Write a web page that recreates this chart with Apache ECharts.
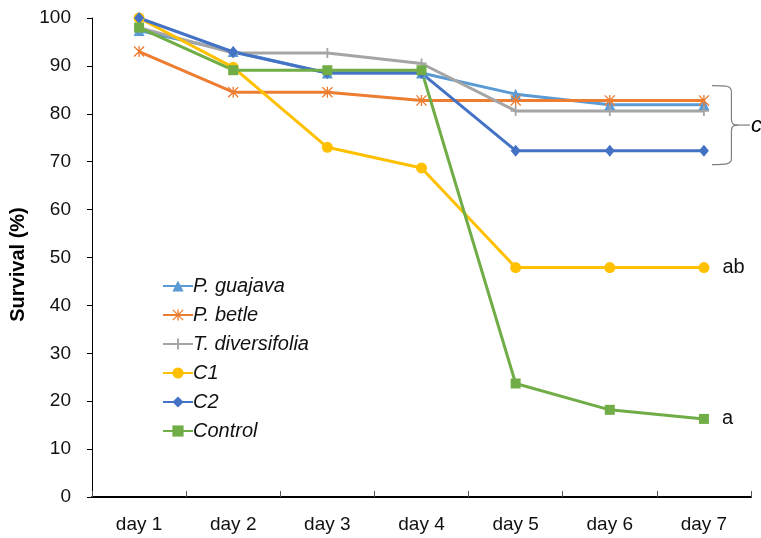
<!DOCTYPE html>
<html>
<head>
<meta charset="utf-8">
<script src="https://cdn.jsdelivr.net/npm/echarts@6/dist/echarts.min.js"></script>
<style>html,body{margin:0;padding:0;background:#fff}#c{width:761px;height:538px}</style>
</head>
<body>
<div id="c"></div>
<script>
// ---- data ----
const categories = ['day 1','day 2','day 3','day 4','day 5','day 6','day 7'];
const seriesNames = ['P. guajava','P. betle','T. diversifolia','C1','C2','Control'];
const pGuajava   = [97.4, 93.0, 88.5, 88.5, 84.1, 81.9, 81.9];
const pBetle     = [93.0, 84.5, 84.5, 82.8, 82.8, 82.8, 82.8];
const tDiversifolia = [98.0, 92.7, 92.7, 90.5, 80.6, 80.6, 80.6];
const c1         = [100, 89.7, 73.0, 68.7, 47.9, 47.9, 47.9];
const c2         = [100, 92.9, 88.5, 88.5, 72.3, 72.3, 72.3];
const control    = [98.0, 89.1, 89.1, 89.1, 23.7, 18.2, 16.3];
const yTicks = {min: 0, max: 100, interval: 10};
const groupLetters = {C1: 'ab', Control: 'a'};
const braceLetter = 'c';
const braceRange = [69.4, 85.9]; // survival range spanned by the brace

// ---- style ----
const colors = ['#5B9BD5','#ED7D31','#A5A5A5','#FFC000','#4472C4','#70AD47'];
const asterisk = 'path://M4.4,0L5.6,0L5.6,10L4.4,10Z M0,0.85L0.85,0L10,9.15L9.15,10Z M9.15,0L10,0.85L0.85,10L0,9.15Z';
const plus = 'path://M4.1,0L5.9,0L5.9,10L4.1,10Z M0,4.1L10,4.1L10,5.9L0,5.9Z';
const symbols = ['triangle', asterisk, plus, 'circle', 'diamond', 'rect'];
const symbolSizes = [11, 11, 10, 11, [10,12], 10];
const values = [pGuajava, pBetle, tDiversifolia, c1, c2, control];
const FONT = 'Liberation Sans';

const chart = echarts.init(document.getElementById('c'), null, {renderer: 'canvas'});

const series = seriesNames.map((name, i) => {
  const letter = groupLetters[name];
  const data = values[i].map((v, j) => {
    if (letter && j === values[i].length - 1) {
      return {value: v, label: {show: true, formatter: letter}};
    }
    return v;
  });
  return {
    name, type: 'line', data,
    symbol: symbols[i], symbolSize: symbolSizes[i], showAllSymbol: true,
    lineStyle: {color: colors[i], width: 3},
    itemStyle: {color: colors[i], borderWidth: 0},
    label: {show: false, position: 'right', distance: 13, color: '#111', fontFamily: FONT, fontSize: 20},
    emphasis: {disabled: true},
    animation: false
  };
});

chart.setOption({
  animation: false,
  backgroundColor: '#fff',
  color: colors,
  grid: {left: 92, right: 10, top: 18, bottom: 41, containLabel: false},
  legend: {
    orient: 'vertical', left: 157, top: 271,
    itemWidth: 30, itemHeight: 14, itemGap: 9,
    textStyle: {fontFamily: FONT, fontSize: 20, fontStyle: 'italic', color: '#111', padding: [0,0,0,-5]},
    data: seriesNames
  },
  xAxis: {
    type: 'category', data: categories, boundaryGap: true,
    axisLine: {lineStyle: {color: '#000', width: 2}},
    axisTick: {show: true, inside: true, length: 6, lineStyle: {color: '#555', width: 1}},
    axisLabel: {color: '#111', fontFamily: FONT, fontSize: 19, margin: 18},
    splitLine: {show: false}
  },
  yAxis: {
    type: 'value', min: yTicks.min, max: yTicks.max, interval: yTicks.interval,
    name: 'Survival (%)', nameLocation: 'middle', nameGap: 60,
    nameTextStyle: {fontFamily: FONT, fontSize: 20, fontWeight: 'bold', color: '#000', padding: [0, 14, 0, 0]},
    axisLine: {show: true, lineStyle: {color: '#000', width: 1}},
    axisTick: {show: true, inside: false, length: 5, lineStyle: {color: '#000'}},
    axisLabel: {color: '#111', fontFamily: FONT, fontSize: 19, margin: 21},
    splitLine: {show: false}
  },
  series
});

// brace annotation for group c, anchored to the last category
const last = categories.length - 1;
const pTop = chart.convertToPixel({xAxisIndex: 0, yAxisIndex: 0}, [last, braceRange[1]]);
const pBot = chart.convertToPixel({xAxisIndex: 0, yAxisIndex: 0}, [last, braceRange[0]]);
const x0 = pTop[0] + 8, xv = pTop[0] + 27.5, xt = pTop[0] + 46;
const yT = pTop[1], yB = pBot[1], yM = (yT + yB) / 2;
const r = 6;
const braceStyle = {fill: null, stroke: '#7f7f7f', lineWidth: 1.2};
const bz = (x1, y1, c1x, c1y, c2x, c2y, x2, y2) => ({
  type: 'bezierCurve', silent: true, style: braceStyle,
  shape: {x1, y1, cpx1: c1x, cpy1: c1y, cpx2: c2x, cpy2: c2y, x2, y2}
});
const ln = (x1, y1, x2, y2) => ({type: 'line', silent: true, style: braceStyle, shape: {x1, y1, x2, y2}});
chart.setOption({
  graphic: [
    bz(x0, yT, xv - 6, yT, xv, yT, xv, yT + r),
    ln(xv, yT + r, xv, yM - r),
    bz(xv, yM - r, xv, yM - 1, xv + 2, yM, xv + 7, yM),
    ln(xv + 7, yM, xt, yM),
    bz(xv, yM + r, xv, yM + 1, xv + 2, yM, xv + 7, yM),
    ln(xv, yM + r, xv, yB - r),
    bz(xv, yB - r, xv, yB, xv - 6, yB, x0, yB),
    {type: 'text', x: xt + 1, y: yM + 1, silent: true,
     style: {text: braceLetter, fontFamily: FONT, fontSize: 22, fontStyle: 'italic', fill: '#000', verticalAlign: 'middle', align: 'left'}}
  ]
});
</script>
</body>
</html>
